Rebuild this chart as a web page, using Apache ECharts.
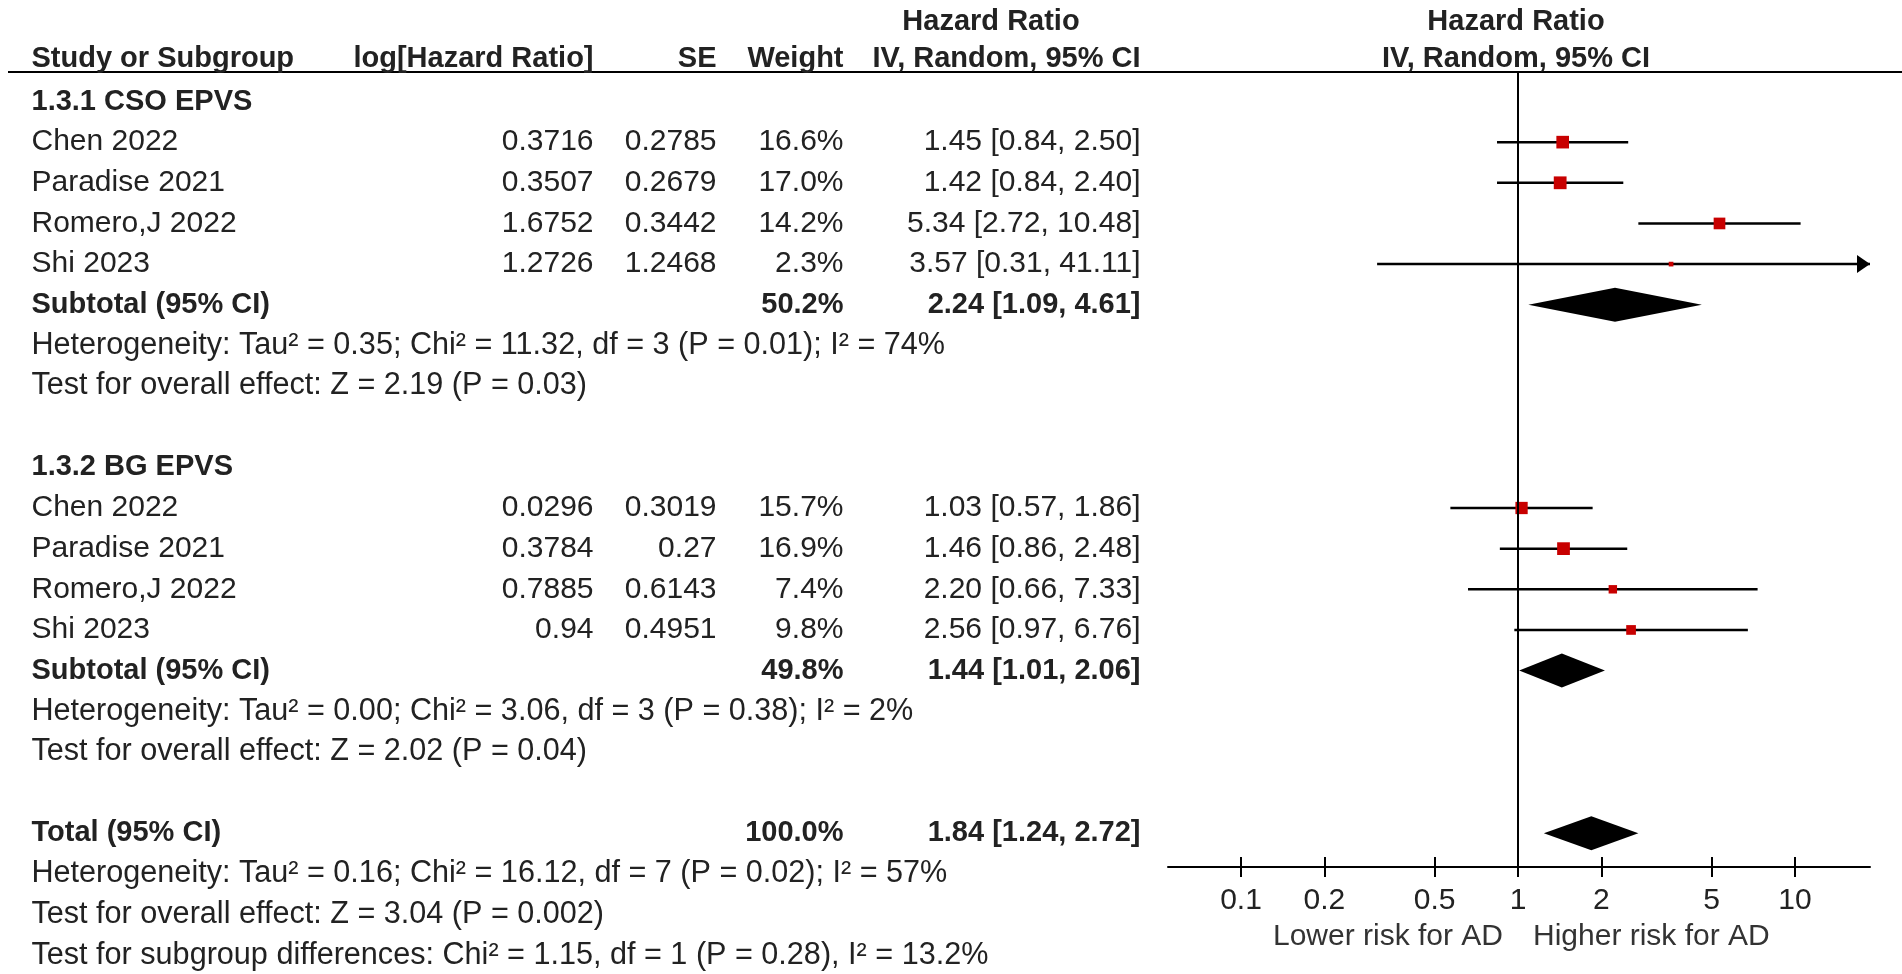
<!DOCTYPE html>
<html>
<head>
<meta charset="utf-8">
<title>Forest plot - EPVS and AD</title>
<script src="https://cdn.jsdelivr.net/npm/echarts@6/dist/echarts.min.js"></script>
<style>
    html, body { margin: 0; padding: 0; background: #fff; }
    #chart { width: 1902px; height: 974px; }
</style>
</head>
<body>
<div id="chart"></div>
<script>
// ---- data ----
const studyNames = ['Chen 2022', 'Paradise 2021', 'Romero,J 2022', 'Shi 2023'];
const groupNames = ['1.3.1 CSO EPVS', '1.3.2 BG EPVS'];

const csoLogHR = ['0.3716', '0.3507', '1.6752', '1.2726'];
const csoSE = ['0.2785', '0.2679', '0.3442', '1.2468'];
const csoWeight = [16.6, 17.0, 14.2, 2.3];
const csoHR = [1.45, 1.42, 5.34, 3.57];
const csoLower = [0.84, 0.84, 2.72, 0.31];
const csoUpper = [2.50, 2.40, 10.48, 41.11];

const bgLogHR = ['0.0296', '0.3784', '0.7885', '0.94'];
const bgSE = ['0.3019', '0.27', '0.6143', '0.4951'];
const bgWeight = [15.7, 16.9, 7.4, 9.8];
const bgHR = [1.03, 1.46, 2.20, 2.56];
const bgLower = [0.57, 0.86, 0.66, 0.97];
const bgUpper = [1.86, 2.48, 7.33, 6.76];

// pooled: [weight, HR, lower, upper]
const csoPooled = [50.2, 2.24, 1.09, 4.61];
const bgPooled = [49.8, 1.44, 1.01, 2.06];
const totalPooled = [100.0, 1.84, 1.24, 2.72];

const csoStats = [
    'Heterogeneity: Tau² = 0.35; Chi² = 11.32, df = 3 (P = 0.01); I² = 74%',
    'Test for overall effect: Z = 2.19 (P = 0.03)'
];
const bgStats = [
    'Heterogeneity: Tau² = 0.00; Chi² = 3.06, df = 3 (P = 0.38); I² = 2%',
    'Test for overall effect: Z = 2.02 (P = 0.04)'
];
const totalStats = [
    'Heterogeneity: Tau² = 0.16; Chi² = 16.12, df = 7 (P = 0.02); I² = 57%',
    'Test for overall effect: Z = 3.04 (P = 0.002)',
    'Test for subgroup differences: Chi² = 1.15, df = 1 (P = 0.28), I² = 13.2%'
];

const axisTicks = [0.1, 0.2, 0.5, 1, 2, 5, 10];
const axisMin = 0.0545;
const axisMax = 18.66;
const favoursLeft = 'Lower risk for AD';
const favoursRight = 'Higher risk for AD';

// ---- layout ----
const W = 1902;
const H = 974;
const ROW_Y0 = 101.5;
const ROW_PITCH = 40.65;
const PLOT_LEFT = 1168;
const PLOT_RIGHT = 1870;
const PLOT_TOP = 72;
const PLOT_BOTTOM = 867;
const TICK_HALF = 10;
const COL = { name: 31, logHR: 594, se: 717, weight: 844, ci: 1141, ciHead: 991, plotHead: 1516 };
const HEAD_ROW_1 = -1.95;
const HEAD_ROW_2 = -1.04;
const FONT = 'Liberation Sans';
const TEXT_STYLES = {
    plain: { fontWeight: 'normal', fontSize: 30 },
    stat: { fontWeight: 'normal', fontSize: 30.6 },
    bold: { fontWeight: 'bold', fontSize: 29 }
};
const TEXT_COLOR = '#222';
const RED = '#c80000';
const SQUARE_K = 3.1;
const DIAMOND_HALF = 17;
const CI_WIDTH = 2.5;

const chart = echarts.init(document.getElementById('chart'));

function ciText(hr, lo, hi) {
    return `${hr.toFixed(2)} [${lo.toFixed(2)}, ${hi.toFixed(2)}]`;
}

// table cells: [x, row, text, style]
const leftCells = [];
const rightCells = [];
const centerCells = [];

function addHeader() {
    leftCells.push([COL.name, HEAD_ROW_2, 'Study or Subgroup', 'bold']);
    rightCells.push([COL.logHR, HEAD_ROW_2, 'log[Hazard Ratio]', 'bold']);
    rightCells.push([COL.se, HEAD_ROW_2, 'SE', 'bold']);
    rightCells.push([COL.weight, HEAD_ROW_2, 'Weight', 'bold']);
    rightCells.push([COL.ci, HEAD_ROW_2, 'IV, Random, 95% CI', 'bold']);
    centerCells.push([COL.ciHead, HEAD_ROW_1, 'Hazard Ratio', 'bold']);
    centerCells.push([COL.plotHead, HEAD_ROW_1, 'Hazard Ratio', 'bold']);
    centerCells.push([COL.plotHead, HEAD_ROW_2, 'IV, Random, 95% CI', 'bold']);
}

const studyPoints = [];
const pooledPoints = [];

function addGroup(startRow, title, logHR, se, weight, hr, lower, upper, pooled, stats) {
    leftCells.push([COL.name, startRow, title, 'bold']);
    studyNames.forEach((name, i) => {
        const row = startRow + 1 + i;
        leftCells.push([COL.name, row, name, 'plain']);
        rightCells.push([COL.logHR, row, logHR[i], 'plain']);
        rightCells.push([COL.se, row, se[i], 'plain']);
        rightCells.push([COL.weight, row, weight[i].toFixed(1) + '%', 'plain']);
        rightCells.push([COL.ci, row, ciText(hr[i], lower[i], upper[i]), 'plain']);
        studyPoints.push([hr[i], lower[i], upper[i], row, weight[i]]);
    });
    const subRow = startRow + 1 + studyNames.length;
    leftCells.push([COL.name, subRow, 'Subtotal (95% CI)', 'bold']);
    rightCells.push([COL.weight, subRow, pooled[0].toFixed(1) + '%', 'bold']);
    rightCells.push([COL.ci, subRow, ciText(pooled[1], pooled[2], pooled[3]), 'bold']);
    pooledPoints.push([pooled[1], pooled[2], pooled[3], subRow]);
    stats.forEach((s, i) => leftCells.push([COL.name, subRow + 1 + i, s, 'stat']));
}

addHeader();
addGroup(0, groupNames[0], csoLogHR, csoSE, csoWeight, csoHR, csoLower, csoUpper, csoPooled, csoStats);
addGroup(9, groupNames[1], bgLogHR, bgSE, bgWeight, bgHR, bgLower, bgUpper, bgPooled, bgStats);
leftCells.push([COL.name, 18, 'Total (95% CI)', 'bold']);
rightCells.push([COL.weight, 18, totalPooled[0].toFixed(1) + '%', 'bold']);
rightCells.push([COL.ci, 18, ciText(totalPooled[1], totalPooled[2], totalPooled[3]), 'bold']);
pooledPoints.push([totalPooled[1], totalPooled[2], totalPooled[3], 18]);
totalStats.forEach((s, i) => leftCells.push([COL.name, 19 + i, s, 'stat']));

function textSeries(cells, position) {
    return {
        type: 'scatter',
        xAxisIndex: 0,
        yAxisIndex: 0,
        symbolSize: 1,
        silent: true,
        itemStyle: { color: 'rgba(0,0,0,0)' },
        data: cells.map((c) => ({
            value: [c[0], c[1]],
            label: TEXT_STYLES[c[3]],
            text: c[2]
        })),
        label: {
            show: true,
            position: position,
            distance: 0,
            opacity: 1,
            fontFamily: FONT,
            fontSize: 30,
            color: TEXT_COLOR,
            formatter: (p) => p.data.text
        },
        labelLayout: { hideOverlap: false }
    };
}

function renderStudy(params, api) {
    const row = api.value(3);
    const hiRaw = api.value(2);
    const lo = Math.max(api.value(1), axisMin);
    const hi = Math.min(hiRaw, axisMax);
    const pLo = api.coord([lo, row]);
    const pHi = api.coord([hi, row]);
    const pE = api.coord([api.value(0), row]);
    const side = SQUARE_K * Math.sqrt(api.value(4));
    const children = [
        {
            type: 'line',
            shape: { x1: pLo[0], y1: pLo[1], x2: pHi[0], y2: pHi[1] },
            style: { stroke: '#000', lineWidth: CI_WIDTH }
        },
        {
            type: 'rect',
            shape: { x: pE[0] - side / 2, y: pE[1] - side / 2, width: side, height: side },
            style: { fill: RED }
        }
    ];
    if (hiRaw > axisMax) {
        children.push({
            type: 'polygon',
            shape: { points: [[pHi[0], pHi[1]], [pHi[0] - 13, pHi[1] - 9], [pHi[0] - 13, pHi[1] + 9]] },
            style: { fill: '#000' }
        });
    }
    return { type: 'group', children };
}

function renderDiamond(params, api) {
    const row = api.value(3);
    const pLo = api.coord([api.value(1), row]);
    const pHi = api.coord([api.value(2), row]);
    const pE = api.coord([api.value(0), row]);
    return {
        type: 'polygon',
        shape: {
            points: [
                pLo,
                [pE[0], pE[1] - DIAMOND_HALF],
                pHi,
                [pE[0], pE[1] + DIAMOND_HALF]
            ]
        },
        style: { fill: '#000' }
    };
}

const tickFormat = (v) => String(Number(Number(v).toPrecision(3)));
const plotGrid = { left: PLOT_LEFT, right: W - PLOT_RIGHT, top: PLOT_TOP, bottom: H - PLOT_BOTTOM };

chart.setOption({
    animation: false,
    backgroundColor: '#fff',
    textStyle: { fontFamily: FONT },
    grid: [
        { left: 0, right: 0, top: 0, bottom: 0 },
        plotGrid,
        plotGrid
    ],
    xAxis: [
        { gridIndex: 0, type: 'value', min: 0, max: W, show: false },
        {
            // axis line of the forest plot
            gridIndex: 1,
            type: 'log',
            logBase: 10,
            min: axisMin,
            max: axisMax,
            position: 'bottom',
            axisLine: { show: true, onZero: false, lineStyle: { color: '#000', width: 2 } },
            axisTick: { show: false },
            axisLabel: { show: false },
            splitLine: { show: false },
            minorTick: { show: false }
        },
        {
            // ticks crossing the axis line, plus labels
            gridIndex: 2,
            type: 'log',
            logBase: 10,
            min: axisMin,
            max: axisMax,
            position: 'bottom',
            offset: TICK_HALF,
            axisLine: { show: false, onZero: false },
            axisTick: {
                show: true,
                inside: true,
                length: TICK_HALF * 2,
                customValues: axisTicks,
                lineStyle: { color: '#000', width: 2 }
            },
            axisLabel: {
                show: true,
                customValues: axisTicks,
                formatter: tickFormat,
                margin: 9,
                fontFamily: FONT,
                fontSize: 30,
                color: TEXT_COLOR
            },
            splitLine: { show: false },
            minorTick: { show: false }
        }
    ],
    yAxis: [
        {
            gridIndex: 0,
            type: 'value',
            inverse: true,
            min: (0 - ROW_Y0) / ROW_PITCH,
            max: (H - ROW_Y0) / ROW_PITCH,
            show: false
        },
        {
            gridIndex: 1,
            type: 'value',
            inverse: true,
            min: (PLOT_TOP - ROW_Y0) / ROW_PITCH,
            max: (PLOT_BOTTOM - ROW_Y0) / ROW_PITCH,
            show: false
        },
        { gridIndex: 2, type: 'value', min: 0, max: 1, show: false }
    ],
    series: [
        textSeries(leftCells, 'right'),
        textSeries(rightCells, 'left'),
        textSeries(centerCells, 'inside'),
        {
            type: 'custom',
            xAxisIndex: 1,
            yAxisIndex: 1,
            silent: true,
            clip: false,
            renderItem: renderStudy,
            encode: { x: [0, 1, 2], y: 3 },
            data: studyPoints,
            markLine: {
                silent: true,
                symbol: 'none',
                label: { show: false },
                lineStyle: { color: '#000', width: 2, type: 'solid' },
                data: [{ xAxis: 1 }]
            }
        },
        {
            type: 'custom',
            xAxisIndex: 1,
            yAxisIndex: 1,
            silent: true,
            clip: false,
            renderItem: renderDiamond,
            encode: { x: [0, 1, 2], y: 3 },
            data: pooledPoints
        }
    ],
    graphic: [
        {
            type: 'line',
            shape: { x1: 8, y1: PLOT_TOP, x2: W, y2: PLOT_TOP },
            style: { stroke: '#000', lineWidth: 2 },
            silent: true
        },
        {
            type: 'text',
            x: 1503,
            y: 937,
            style: {
                text: favoursLeft,
                align: 'right',
                verticalAlign: 'middle',
                font: `30px "${FONT}"`,
                fill: '#333'
            },
            silent: true
        },
        {
            type: 'text',
            x: 1533,
            y: 937,
            style: {
                text: favoursRight,
                align: 'left',
                verticalAlign: 'middle',
                font: `30px "${FONT}"`,
                fill: '#333'
            },
            silent: true
        }
    ]
});

window.addEventListener('resize', () => chart.resize());
</script>
</body>
</html>
